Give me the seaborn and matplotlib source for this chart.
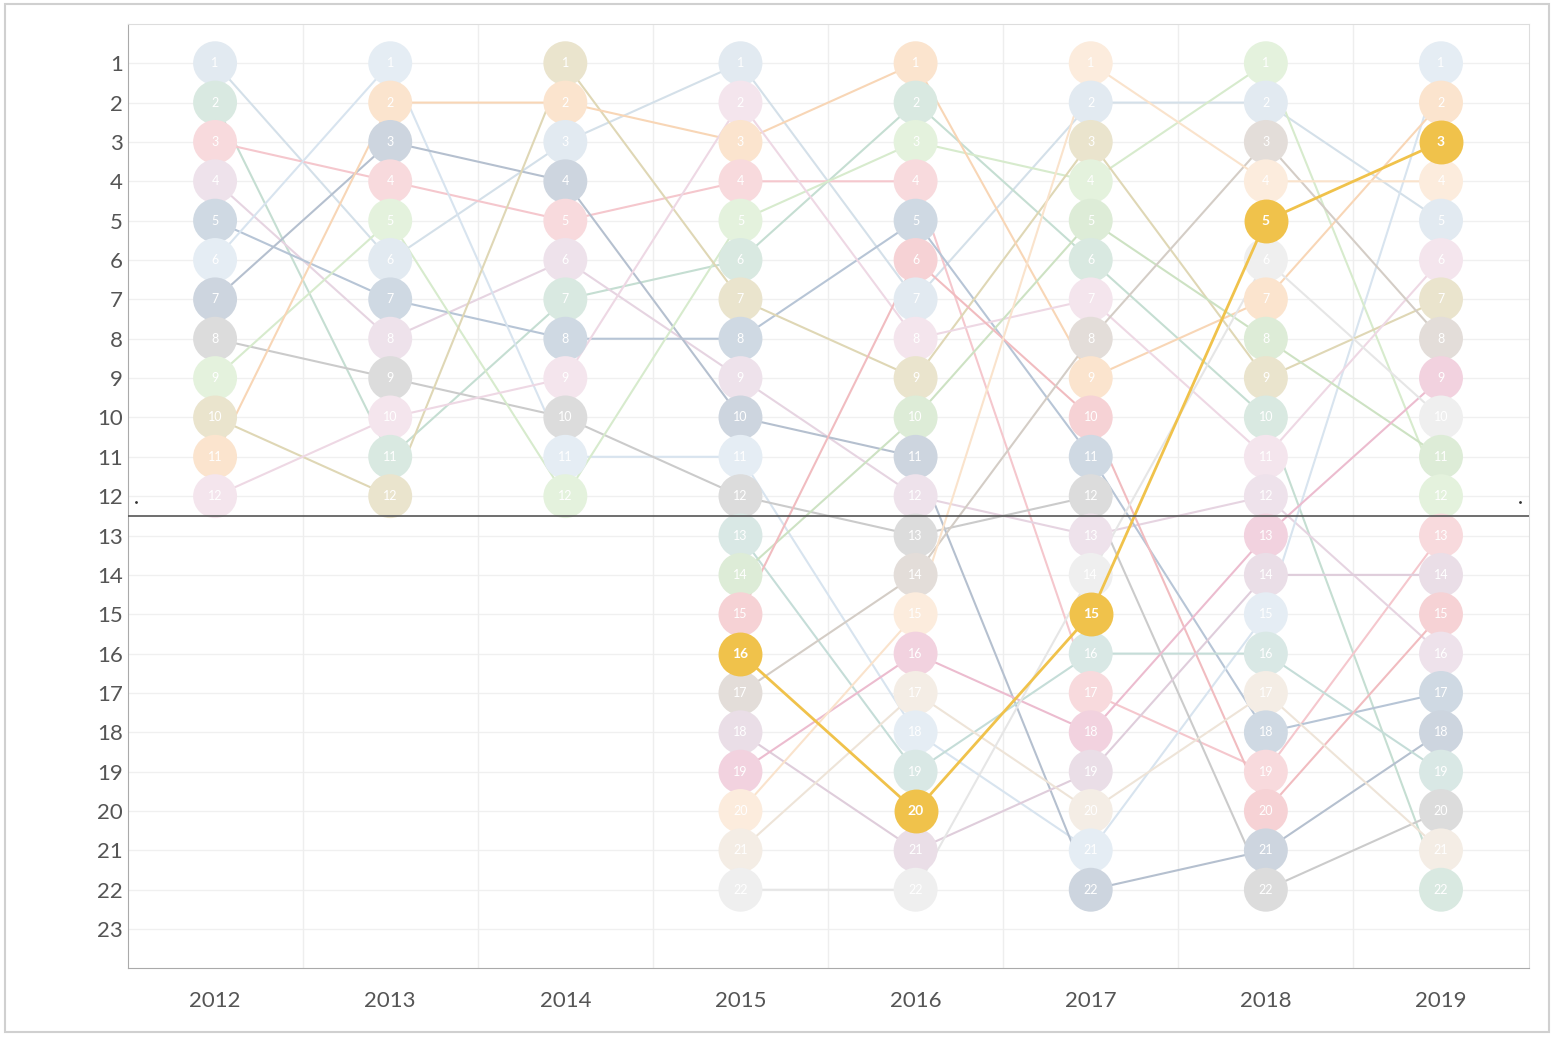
import matplotlib.pyplot as plt
import matplotlib.colors as mcolors
import pandas as pd
import numpy as np
import seaborn as sns

years = [2012, 2013, 2014, 2015, 2016, 2017, 2018, 2019]
n_teams_2012 = 12
# for each year: rank r (1..N) -> rank the same team had the year before (0 = new team)
prev_rank = {
    2013: [6, 11, 7, 3, 9, 1, 5, 4, 8, 12, 2, 10],
    2014: [12, 2, 6, 3, 4, 8, 11, 7, 10, 9, 1, 5],
    2015: [3, 9, 2, 5, 12, 7, 1, 8, 6, 4, 11, 10, 0, 0, 0, 0, 0, 0, 0, 0, 0, 0],
    2016: [3, 6, 5, 4, 8, 15, 1, 2, 7, 14, 10, 9, 12, 17, 20, 19, 21, 11, 13, 16, 18, 22],
    2017: [15, 7, 9, 3, 10, 2, 8, 14, 1, 6, 5, 13, 12, 22, 20, 19, 4, 16, 21, 17, 18, 11],
    2018: [4, 2, 8, 1, 15, 14, 9, 5, 3, 6, 7, 13, 18, 19, 21, 16, 20, 11, 17, 10, 22, 12],
    2019: [15, 7, 5, 4, 2, 11, 9, 3, 13, 6, 8, 1, 19, 14, 20, 12, 18, 21, 16, 22, 17, 10],
}
team_colors = ["#9fb9cf", "#7fb59a", "#e8838f", "#c79fbd", "#5f7fa3", "#a9c4dc",
               "#5a7394", "#8c8c8c", "#a5d38f", "#b8a55a", "#f0a45c", "#d9a8c2",
               "#7fb3a8", "#8fbf7a", "#e06a72", "#f0c24b", "#a08f80", "#b890b0",
               "#d46a95", "#f4c08e", "#d9c4a8", "#c8c8c8"]

# follow teams through the years
rows = []
rank_team = {r: r - 1 for r in range(1, n_teams_2012 + 1)}
for r, t in rank_team.items():
    rows.append((2012, r, t))
next_id = n_teams_2012
for y in years[1:]:
    new = {}
    for r, p in enumerate(prev_rank[y], start=1):
        if p == 0:
            new[r] = next_id
            next_id += 1
        else:
            new[r] = rank_team[p]
        rows.append((y, r, new[r]))
    rank_team = new
df = pd.DataFrame(rows, columns=["year", "rank", "team"])
highlight = rank_team[3]

def pale(c, a):
    rgb = np.array(mcolors.to_rgb(c))
    return tuple(rgb * a + (1 - a))

pal_line = {t: pale(team_colors[t], 0.45) for t in range(next_id)}
pal_dot = {t: pale(team_colors[t], 0.3) for t in range(next_id)}
pal_line[highlight] = team_colors[highlight]
pal_dot[highlight] = team_colors[highlight]

sns.set_style("white")
plt.rcParams['font.family'] = ['Lato', 'DejaVu Sans']
fig, ax = plt.subplots(figsize=(15.55, 10.38), dpi=100)
fig.subplots_adjust(left=0.082, right=0.983, top=0.977, bottom=0.067)
fig.patches.append(plt.Rectangle((0.003, 0.006), 0.993, 0.99, transform=fig.transFigure,
                                 fill=False, edgecolor="#d0d0d0", lw=1.5))

for y in range(1, 24):
    ax.axhline(y, color="#f0f0f0", lw=1, zorder=0)
for x in np.arange(2012.5, 2019, 1):
    ax.axvline(x, color="#eeeeee", lw=1, zorder=0)

bg = df[df.team != highlight]
sns.lineplot(data=bg, x="year", y="rank", hue="team", palette=pal_line, lw=1.5,
             legend=False, ax=ax, zorder=2, estimator=None, sort=True)
sns.scatterplot(data=bg, x="year", y="rank", hue="team", palette=pal_dot, s=1000,
                legend=False, ax=ax, zorder=3, linewidth=0)
hl = df[df.team == highlight]
ax.plot(hl.year, hl["rank"], color=team_colors[highlight], lw=2, zorder=4)
ax.scatter(hl.year, hl["rank"], color=team_colors[highlight], s=1000, zorder=5, linewidth=0)
for _, row in df.iterrows():
    is_hl = row.team == highlight
    ax.text(row.year, row["rank"], str(row["rank"]), ha="center", va="center",
            color="white", fontsize=10 if is_hl else 9, fontweight="bold" if is_hl else "normal",
            zorder=6)

ax.axhline(12.5, color="#555555", lw=1.2, zorder=4)
ax.plot([2011.55, 2019.45], [12.15, 12.15], ".", color="#333333", ms=2)

ax.set_xlim(2011.5, 2019.5)
ax.set_ylim(24, 0)
ax.set_yticks(range(1, 24))
ax.set_xticks(years)
ax.tick_params(labelsize=16, colors="#555555", length=0)
ax.tick_params(axis="x", pad=16)
ax.set_xlabel("")
ax.set_ylabel("")
for s in ax.spines.values():
    s.set_color("#dddddd")
ax.spines["left"].set_color("#aaaaaa")
ax.spines["bottom"].set_color("#aaaaaa")
fig.savefig("out.png")
